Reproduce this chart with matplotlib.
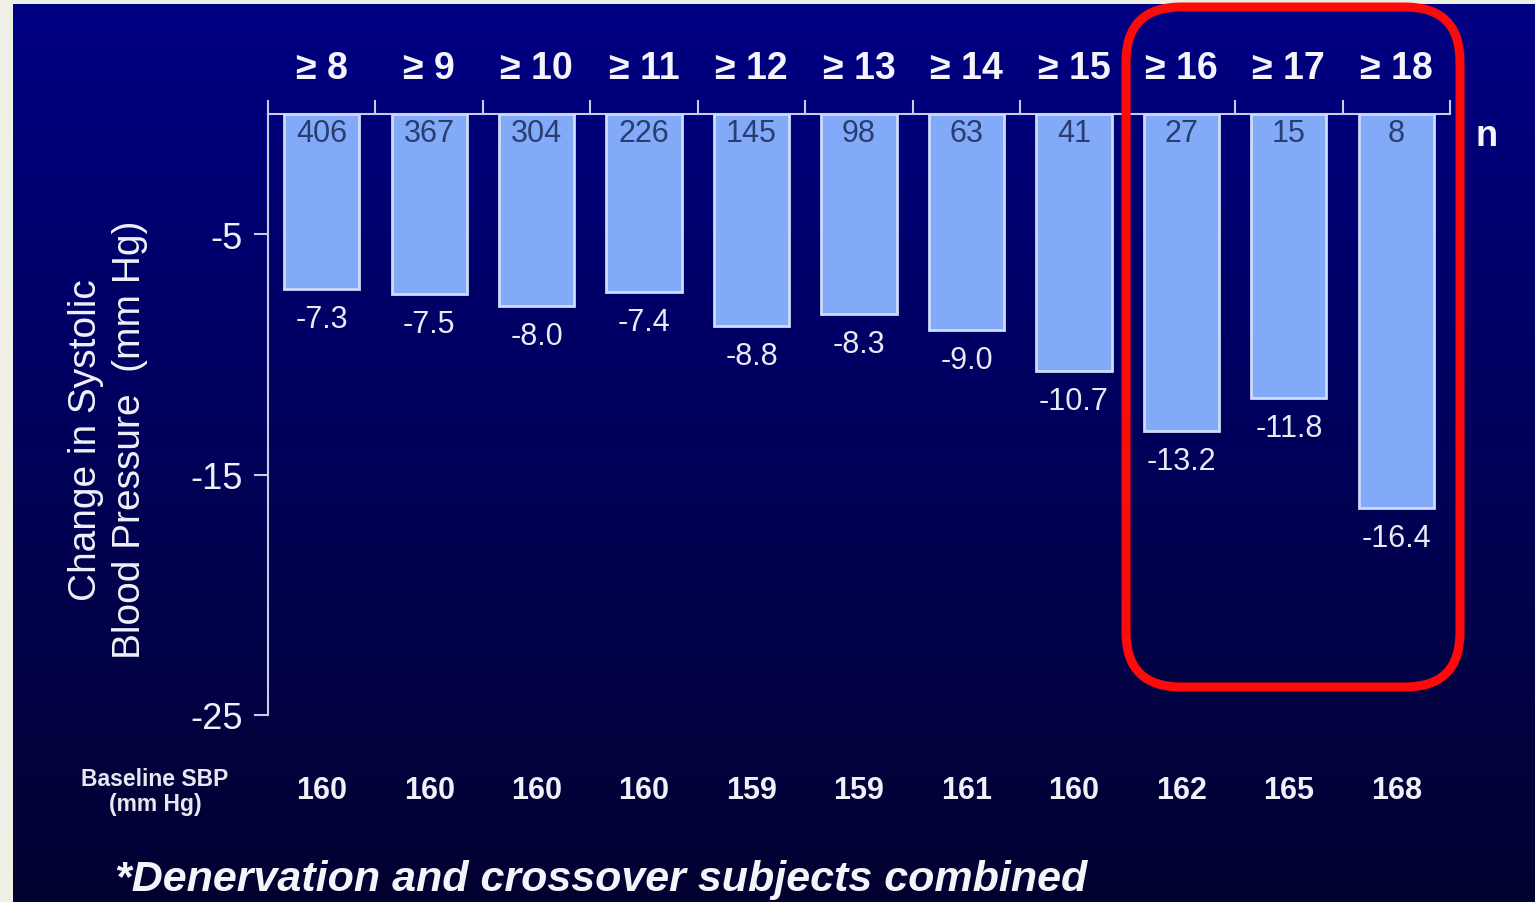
import matplotlib
matplotlib.use("Agg")
import matplotlib.pyplot as plt
import numpy as np
from matplotlib.patches import FancyBboxPatch, Rectangle
import matplotlib.transforms as mtransforms

plt.rcParams['font.family'] = ['Liberation Sans', 'DejaVu Sans']

categories = ["≥ 8", "≥ 9", "≥ 10", "≥ 11", "≥ 12", "≥ 13", "≥ 14", "≥ 15", "≥ 16", "≥ 17", "≥ 18"]
change_sbp = [-7.3, -7.5, -8.0, -7.4, -8.8, -8.3, -9.0, -10.7, -13.2, -11.8, -16.4]
n_subjects = [406, 367, 304, 226, 145, 98, 63, 41, 27, 15, 8]
baseline_sbp = [160, 160, 160, 160, 159, 159, 161, 160, 162, 165, 168]
yticks = [-5, -15, -25]

W, H = 1535, 903
fig = plt.figure(figsize=(W / 100, H / 100), dpi=100)

# background gradient
bg = fig.add_axes([0, 0, 1, 1], zorder=-10)
top = np.array([0x00, 0x00, 0x84]) / 255
bot = np.array([0x02, 0x02, 0x30]) / 255
t = np.linspace(0, 1, 256)[:, None]
grad = top[None, :] * (1 - t) + bot[None, :] * t
bg.imshow(grad[:, None, :], aspect='auto', extent=[0, 1, 0, 1])
bg.set_xlim(0, 1); bg.set_ylim(0, 1)
bg.axis('off')
# light margins
fig.patches.append(Rectangle((0, 0), 13 / W, 1, transform=fig.transFigure,
                             facecolor='#eef0e6', edgecolor='none', zorder=5))
fig.patches.append(Rectangle((0, 1 - 5 / H), 1, 5 / H, transform=fig.transFigure,
                             facecolor='#eef0e6', edgecolor='none', zorder=5))

ax = fig.add_axes([268 / W, 1 - 716 / H, (1450 - 268) / W, (716 - 115) / H])
ax.patch.set_alpha(0)
x = np.arange(len(categories))
ax.bar(x, change_sbp, width=0.7, color='#82aaf8', edgecolor='#cddcfa', linewidth=2, zorder=3)
ax.set_xlim(-0.5, len(categories) - 0.5)
ax.set_ylim(-25, 0)

for s in ['right', 'bottom']:
    ax.spines[s].set_visible(False)
for s in ['top', 'left']:
    ax.spines[s].set_color('#c8cce8')
    ax.spines[s].set_linewidth(1.5)

ax.xaxis.tick_top()
ax.set_xticks(np.arange(len(categories) + 1) - 0.5)
ax.set_xticklabels([])
ax.tick_params(axis='x', direction='out', length=10, width=1.5, color='#c8cce8')
ax.set_yticks(yticks)
ax.set_yticklabels([str(v) for v in yticks])
ax.tick_params(axis='y', direction='out', length=10, width=1.5, color='#c8cce8',
               labelcolor='#f0f0f8', labelsize=26, pad=8)

fig.text(108 / W, 1 - 440 / H, "Change in Systolic\nBlood Pressure  (mm Hg)", rotation=90,
         ha='center', va='center', color='#f0f0f8', fontsize=28, linespacing=1.3)

tr = mtransforms.blended_transform_factory(ax.transData, ax.transAxes)
for i in range(len(categories)):
    ax.annotate(categories[i], xy=(x[i], 1), xycoords=tr, xytext=(0, 46), textcoords='offset pixels',
                ha='center', va='center', fontsize=27, fontweight='bold', color='#f4f4fa',
                annotation_clip=False)
    ax.annotate(str(n_subjects[i]), xy=(x[i], 0), xycoords='data', xytext=(0, -19),
                textcoords='offset pixels', ha='center', va='center', fontsize=22,
                color='#2a3d70', zorder=5)
    ax.annotate(f"{change_sbp[i]:.1f}", xy=(x[i], change_sbp[i]), xycoords='data',
                xytext=(0, -30), textcoords='offset pixels', ha='center', va='center',
                fontsize=22, color='#eaeaf4', annotation_clip=False)
    ax.annotate(str(baseline_sbp[i]), xy=(x[i], 0), xycoords=tr, xytext=(0, -75),
                textcoords='offset pixels', ha='center', va='center', fontsize=22,
                fontweight='bold', color='#f0f0f8', annotation_clip=False)

ax.annotate("n", xy=(1, 1), xycoords='axes fraction', xytext=(37, -22), textcoords='offset pixels',
            ha='center', va='center', fontsize=26, fontweight='bold', color='#f4f4fa',
            annotation_clip=False)

fig.text(155 / W, 1 - 792 / H, "Baseline SBP\n(mm Hg)", ha='center', va='center',
         fontsize=16.5, fontweight='bold', color='#e8e8f0', linespacing=1.15)

fig.text(115 / W, 1 - 880 / H, "*Denervation and crossover subjects combined", ha='left',
         va='center', fontsize=31, fontweight='bold', fontstyle='italic', color='#f4f4fa')

# red rounded box
box = FancyBboxPatch((11.26, 2.15), 14.60 - 11.26, 8.95 - 2.15,
                     boxstyle="round,pad=0,rounding_size=0.55",
                     transform=fig.dpi_scale_trans, facecolor='none',
                     edgecolor='#ff0a0a', linewidth=6.5, zorder=10)
fig.patches.append(box)

fig.savefig("out.png", dpi=100)
